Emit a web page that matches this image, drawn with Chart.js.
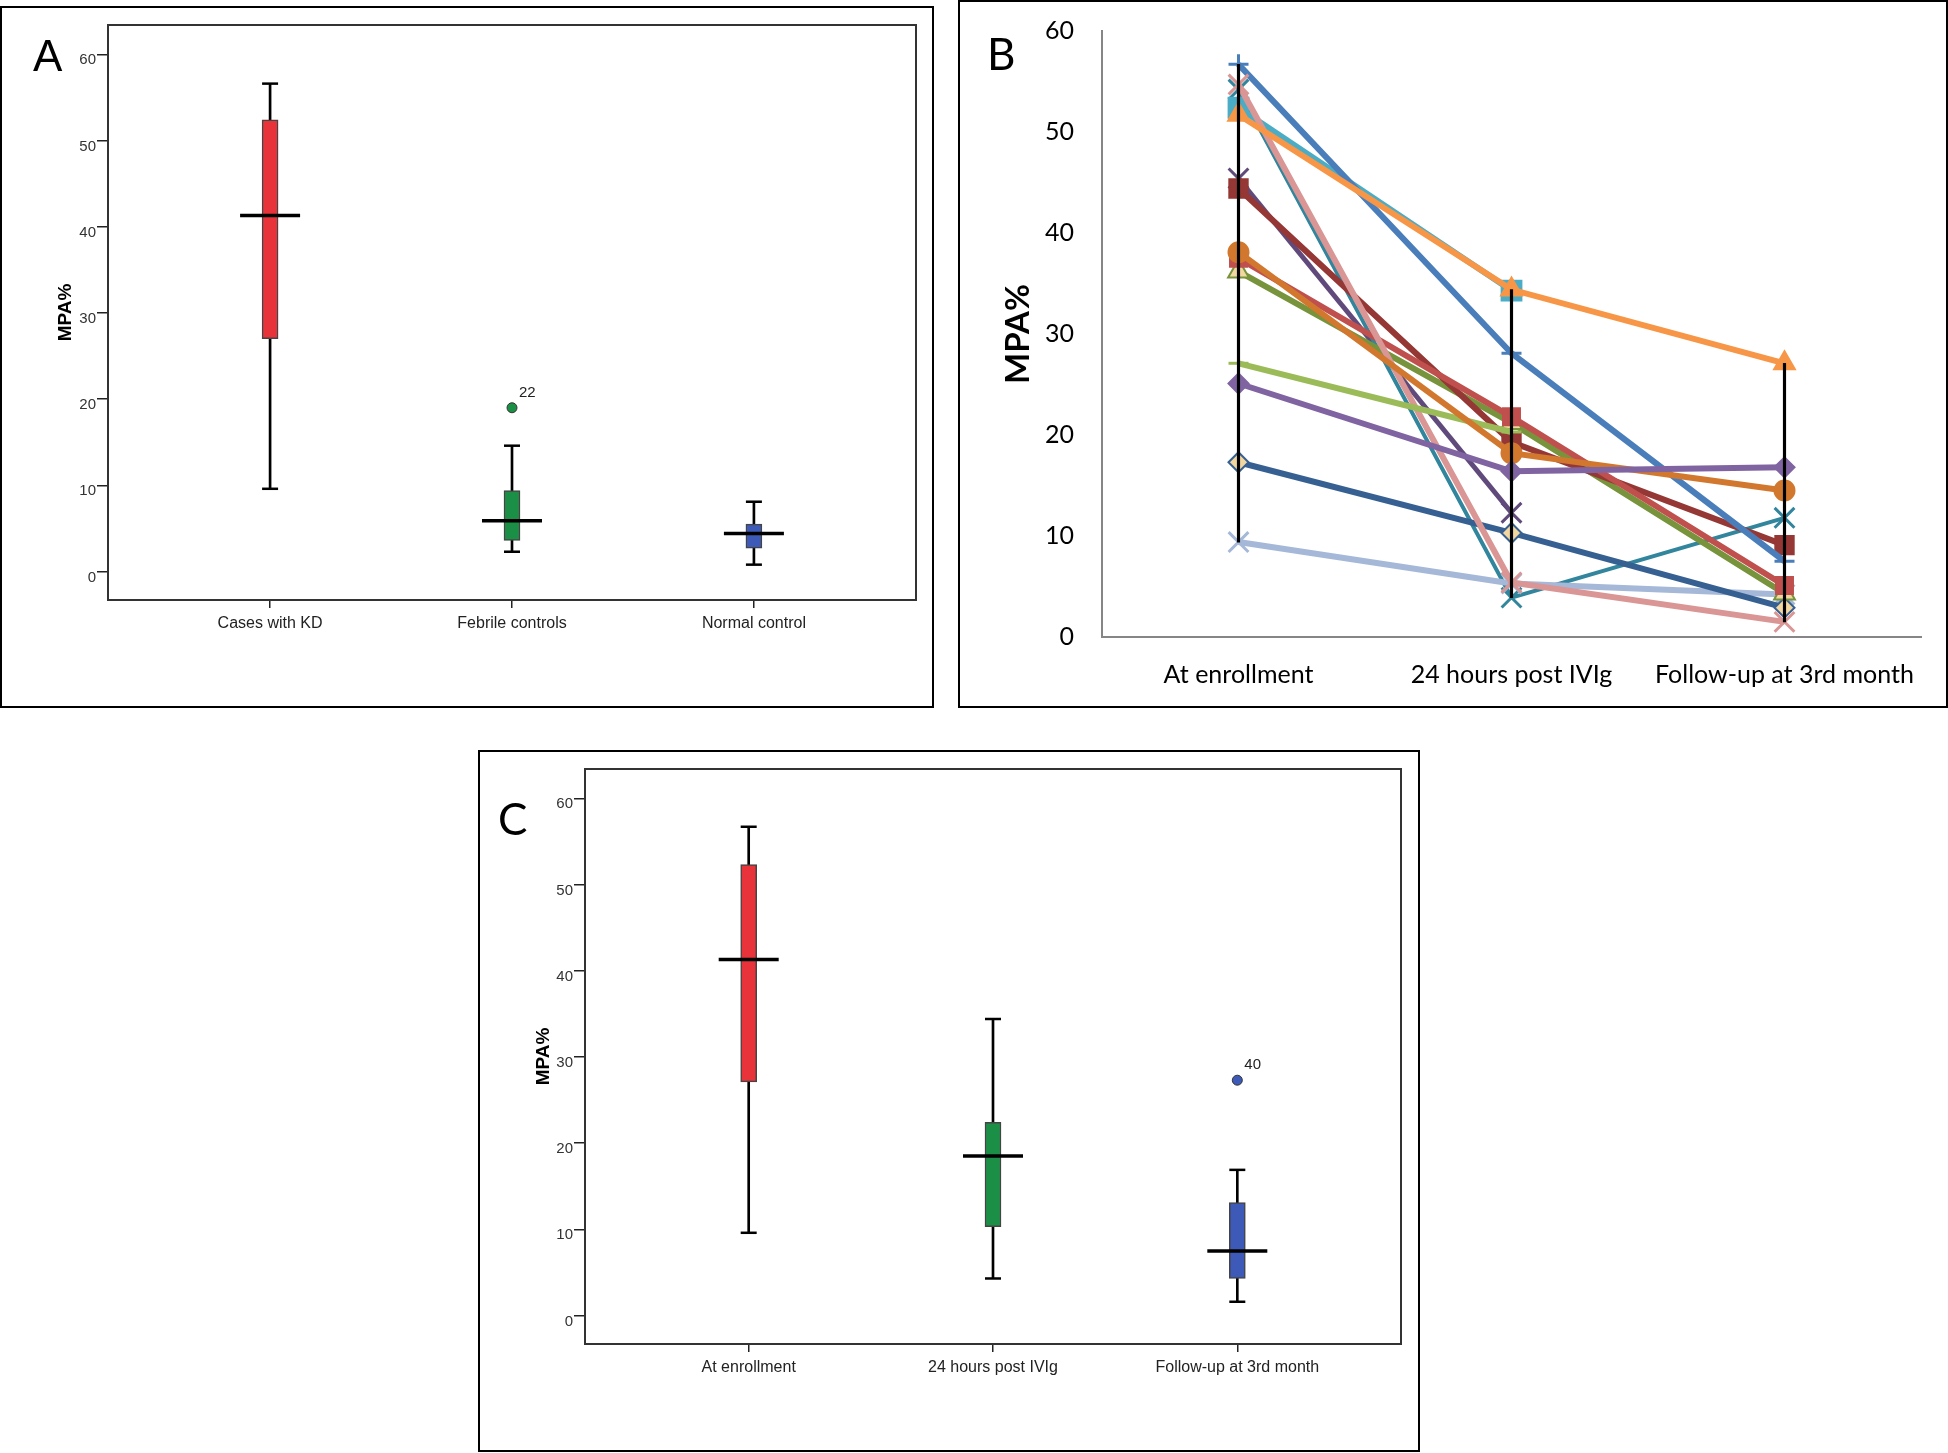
<!DOCTYPE html>
<html>
<head>
<meta charset="utf-8">
<script src="https://cdn.jsdelivr.net/npm/chart.js@4"></script>
<style>
  body { margin: 0; background: #fff; width: 1948px; height: 1453px; position: relative; overflow: hidden; }
  canvas { position: absolute; }
  .frame { position: absolute; box-sizing: border-box; border: 2px solid #000; pointer-events: none; }
  .tag { position: absolute; color: #000; line-height: 1; }
</style>
</head>
<body>
<canvas id="chartA" width="934" height="702" style="left:0;top:6px"></canvas>
<canvas id="chartB" width="990" height="708" style="left:958px;top:0"></canvas>
<canvas id="chartC" width="942" height="702" style="left:478px;top:750px"></canvas>
<div class="frame" style="left:0;top:6px;width:934px;height:702px"></div>
<div class="frame" style="left:958px;top:0;width:990px;height:708px"></div>
<div class="frame" style="left:478px;top:750px;width:942px;height:702px"></div>
<div class="tag" style="left:33px;top:31px;font:44px 'Liberation Sans'">A</div>
<div class="tag" style="left:987px;top:27px;font:44px Lato">B</div>
<div class="tag" style="left:498px;top:792px;font:44px Lato">C</div>
<script>
// y ticks shared by all three panels
const yTicks = [0, 10, 20, 30, 40, 50, 60];

// panel A: box plots by group
const groupsA = ["Cases with KD", "Febrile controls", "Normal control"];
const lowA = [9.6, 2.3, 0.8];
const q1A = [27.0, 3.6, 2.7];
const medianA = [41.3, 5.9, 4.4];
const q3A = [52.4, 9.4, 5.5];
const highA = [56.6, 14.6, 8.1];
const outlierGroupA = [2];
const outlierValueA = [19.0];
const outlierIdA = ["22"];

// panel C: box plots by time point
const timesC = ["At enrollment", "24 hours post IVIg", "Follow-up at 3rd month"];
const lowC = [9.6, 4.3, 1.6];
const q1C = [27.1, 10.3, 4.3];
const medianC = [41.3, 18.5, 7.5];
const q3C = [52.3, 22.4, 13.1];
const highC = [56.7, 34.4, 16.9];
const outlierGroupC = [3];
const outlierValueC = [27.3];
const outlierIdC = ["40"];

// panel B: individual patients
const timesB = ["At enrollment", "24 hours post IVIg", "Follow-up at 3rd month"];
const p01 = [56.7, 28.1, 7.5];
const p02 = [51.7, 34.4, 27.1];
const p03 = [52.4, 34.3, null];
const p04 = [54.2, 3.9, 11.8];
const p05 = [54.7, 5.4, 1.5];
const p06 = [45.4, 12.3, null];
const p07 = [44.4, 19.3, 9.1];
const p08 = [37.5, 21.8, 5.1];
const p09 = [38.1, 18.2, 14.5];
const p10 = [36.2, 21.2, 4.3];
const p11 = [27.1, 20.3, null];
const p12 = [25.1, 16.4, 16.8];
const p13 = [17.3, 10.3, 2.9];
const p14 = [9.4, 5.3, 4.2];

Chart.defaults.font.family = "'Liberation Sans', Arial, sans-serif";
Chart.defaults.color = "#222";

const framePlugin = {
  id: "frame",
  beforeDatasetsDraw(chart) {
    const { ctx, chartArea: a } = chart;
    ctx.save();
    ctx.strokeStyle = "#333";
    ctx.lineWidth = 2;
    ctx.strokeRect(a.left, a.top, a.right - a.left, a.bottom - a.top);
    ctx.restore();
  }
};

const outlierTags = {
  id: "outlierTags",
  afterDatasetsDraw(chart) {
    const ctx = chart.ctx;
    chart.data.datasets.forEach((ds, di) => {
      if (!ds.outIds) return;
      chart.getDatasetMeta(di).data.forEach((pt, i) => {
        ctx.save();
        ctx.font = "15px 'Liberation Sans'";
        ctx.fillStyle = "#222";
        ctx.textBaseline = "middle";
        ctx.fillText(ds.outIds[i], pt.x + 7, pt.y - 15);
        ctx.restore();
      });
    });
  }
};

// keep the plot area exactly where the padding puts it
function noPad(s) {
  s.paddingLeft = 0; s.paddingRight = 0; s.paddingTop = 0; s.paddingBottom = 0;
}

function boxPlot(id, cats, low, q1, med, q3, high, outGroup, outValue, outId, fills, leftW, rightPad) {
  const pos = cats.map((c, i) => i + 1);
  new Chart(document.getElementById(id), {
    type: "bar",
    data: {
      datasets: [
        {
          type: "scatter",
          data: outValue.map((v, i) => ({ x: outGroup[i], y: v })),
          outIds: outId,
          pointRadius: 5,
          backgroundColor: outGroup.map(g => fills[g - 1]),
          borderColor: "#333",
          borderWidth: 1
        },
        {
          type: "scatter",
          data: med.map((v, i) => ({ x: pos[i], y: v })),
          pointStyle: "line",
          pointRadius: 30,
          borderColor: "#000",
          borderWidth: 3.5
        },
        {
          data: q1.map((v, i) => ({ x: pos[i], y: [v, q3[i]] })),
          backgroundColor: fills,
          borderColor: "#444",
          borderWidth: 1.5,
          borderSkipped: false,
          barThickness: 16,
          grouped: false
        },
        {
          type: "scatter",
          data: low.concat(high).map((v, i) => ({ x: pos[i % low.length], y: v })),
          pointStyle: "line",
          pointRadius: 8,
          borderColor: "#000",
          borderWidth: 2.5
        },
        {
          data: low.map((v, i) => ({ x: pos[i], y: [v, high[i]] })),
          backgroundColor: "#000",
          barThickness: 2,
          grouped: false
        }
      ]
    },
    options: {
      responsive: false,
      animation: false,
      events: [],
      layout: { autoPadding: false, padding: { top: 19, right: rightPad, bottom: 0, left: 0 } },
      plugins: { legend: { display: false }, tooltip: { enabled: false } },
      scales: {
        x: {
          type: "linear",
          min: 0.33,
          max: 3.67,
          offset: false,
          afterBuildTicks: s => { s.ticks = pos.map(v => ({ value: v })); },
          afterFit: s => { s.height = 108; noPad(s); },
          grid: { offset: false, drawOnChartArea: false, tickLength: 8, color: "#222", lineWidth: 1.5 },
          border: { display: false },
          ticks: { callback: v => cats[v - 1], padding: 6, autoSkip: false, maxRotation: 0, font: { size: 16 }, color: "#222" }
        },
        y: {
          min: -3.3,
          max: 63.4,
          afterBuildTicks: s => { s.ticks = yTicks.map(v => ({ value: v })); },
          afterFit: s => { s.width = leftW; noPad(s); },
          grid: { drawOnChartArea: false, tickLength: 11, color: "#222", lineWidth: 1.5 },
          border: { display: false },
          ticks: { padding: 1, labelOffset: 6, font: { size: 15 }, color: "#333" },
          title: { display: true, text: "MPA%", color: "#000", font: { size: 19, weight: "bold" }, padding: { top: 54, bottom: 0 } }
        }
      }
    },
    plugins: [framePlugin, outlierTags]
  });
}

const boxFills = ["#e8333b", "#1b8f45", "#3d5ab8"];
boxPlot("chartA", groupsA, lowA, q1A, medianA, q3A, highA, outlierGroupA, outlierValueA, outlierIdA, boxFills, 108, 18);
boxPlot("chartC", timesC, lowC, q1C, medianC, q3C, highC, outlierGroupC, outlierValueC, outlierIdC, boxFills, 107, 19);

// panel B: spaghetti plot
const patients = [p02, p12, p09, p11, p05, p01, p08, p07, p10, p13, p14, p03, p04, p06];
const looks = [
  { color: "#f79646", fill: "#f79646", style: "triangle", r: 12, w: 6 },
  { color: "#8064a2", fill: "#8064a2", style: "rectRot", r: 10, w: 6 },
  { color: "#d2782e", fill: "#d2782e", style: "circle", r: 10, w: 6 },
  { color: "#9bbb59", fill: "#9bbb59", style: "line", r: 10, w: 6 },
  { color: "#d99694", fill: "#d99694", style: "crossRot", r: 14, w: 6 },
  { color: "#4a7ebb", fill: "#4a7ebb", style: "cross", r: 10, w: 6 },
  { color: "#c0504d", fill: "#c0504d", style: "rect", r: 12, w: 6 },
  { color: "#953735", fill: "#953735", style: "rect", r: 13, w: 6 },
  { color: "#77933c", fill: "#f2d7a0", style: "triangle", r: 12, w: 6 },
  { color: "#376092", fill: "#f2d7a0", style: "rectRot", r: 10, w: 6 },
  { color: "#a5b8d8", fill: "#a5b8d8", style: "crossRot", r: 14, w: 6 },
  { color: "#4bacc6", fill: "#4bacc6", style: "rect", r: 14, w: 6 },
  { color: "#31859c", fill: "#31859c", style: "crossRot", r: 14, w: 4 },
  { color: "#604a7b", fill: "#604a7b", style: "crossRot", r: 14, w: 5 }
];

const ranges = timesB.map((t, i) => {
  const vals = patients.map(p => p[i]).filter(v => v !== null);
  return [Math.min(...vals), Math.max(...vals)];
});

const datasetsB = [{
  type: "bar",
  data: ranges,
  backgroundColor: "#000",
  barThickness: 2.5
}];
patients.forEach((p, i) => {
  const lk = looks[i];
  datasetsB.push({
    type: "line",
    data: p,
    borderColor: lk.color,
    borderWidth: lk.w,
    pointStyle: lk.style,
    pointRadius: lk.r,
    pointBackgroundColor: lk.fill,
    pointBorderColor: lk.color,
    pointBorderWidth: lk.style.startsWith("cross") || lk.style === "line" ? 3 : 2,
    tension: 0,
    spanGaps: false
  });
});

new Chart(document.getElementById("chartB"), {
  type: "line",
  data: { labels: timesB, datasets: datasetsB },
  options: {
    responsive: false,
    animation: false,
    events: [],
    layout: { autoPadding: false, padding: { top: 31, right: 27, bottom: 0, left: 0 } },
    plugins: { legend: { display: false }, tooltip: { enabled: false } },
    scales: {
      x: {
        offset: true,
        afterFit: s => { s.height = 71; noPad(s); },
        grid: { display: false },
        border: { color: "#868686", width: 2 },
        ticks: { padding: 15, font: { family: "Lato", size: 25 }, color: "#000", autoSkip: false, maxRotation: 0 }
      },
      y: {
        min: 0,
        max: 60,
        afterBuildTicks: s => { s.ticks = yTicks.map(v => ({ value: v })); },
        afterFit: s => { s.width = 144; noPad(s); },
        grid: { display: false },
        border: { color: "#868686", width: 2 },
        ticks: { padding: 20, font: { family: "Lato", size: 25 }, color: "#000" },
        title: { display: true, text: "MPA%", color: "#000", font: { family: "Lato", size: 33, weight: "bold" }, padding: { top: 41, bottom: 0 } }
      }
    }
  }
});
</script>
</body>
</html>
